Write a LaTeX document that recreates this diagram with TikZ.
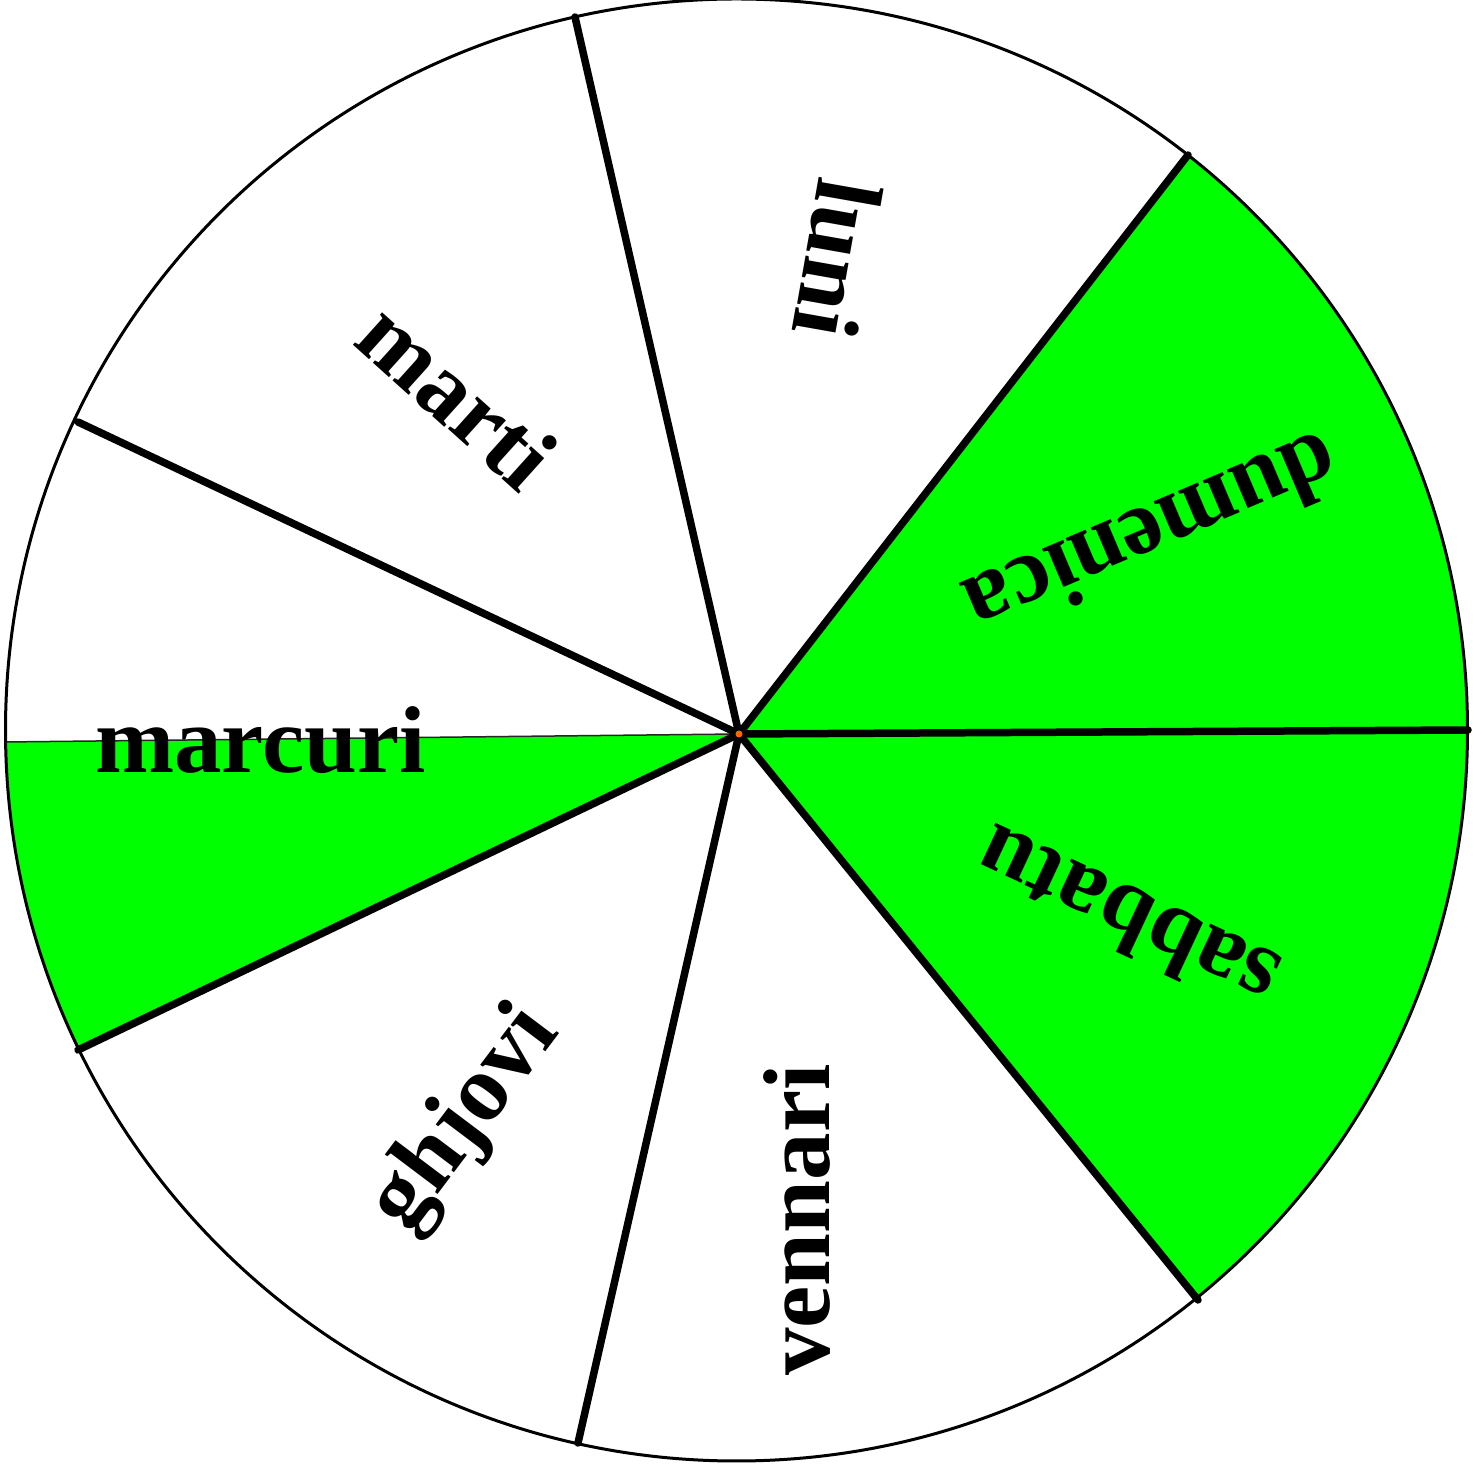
\documentclass[tikz,border=0pt]{standalone}
\usepackage{fontspec}
\setmainfont{Liberation Serif}
\definecolor{wheelgreen}{RGB}{0,255,0}
\definecolor{hubdot}{RGB}{255,102,0}
\tikzset{
  spoke/.style={line width=7.5pt, line cap=round},
  rim/.style={line width=3pt},
  day/.style={font=\fontsize{95}{100}\selectfont\bfseries, inner sep=0pt, text=black}
}
\begin{document}
\begin{tikzpicture}[x=1pt,y=1pt]
\useasboundingbox (0,0) rectangle (1484,1470);
\coordinate (cc) at (736.5,740);
\coordinate (h) at (739,736);
\coordinate (s1) at (575,1453);
\coordinate (s2) at (1188,1315);
\coordinate (s3) at (1468,740);
\coordinate (s4) at (1198,170);
\coordinate (s5) at (578,27);
\coordinate (s6) at (78,420);
\coordinate (s7) at (78,1048);
\coordinate (g0) at (5,728);
\fill[white] (cc) circle[radius=731];
\begin{scope}
  \clip (cc) circle[radius=731];
  \fill[wheelgreen] (h) -- (1278,1431) -- (1490,1431) -- (1490,57) -- (1290,57) -- cycle;
  \fill[wheelgreen] (h) -- (-68,727) -- (-54,357) -- cycle;
  \draw[line width=1.5pt, black!85] (h) -- (g0);
\end{scope}
\foreach \s in {s1,s2,s3,s4,s5,s6,s7} \draw[spoke] (h) -- (\s);
\draw[rim] (cc) circle[radius=731];
\node[day, rotate=-100] (luni) at (838,1211) {luni};
\node[day, rotate=-42] (marti) at (458,1075) {marti};
\node[day, rotate=203] (dumenica) at (1153,933) {dumenica};
\node[day, rotate=155] (sabbatu) at (1126,550) {sabbatu};
\node[day, rotate=90] (vennari) at (797,250) {vennari};
\node[day, rotate=53] (ghjovi) at (466,350) {ghjovi};
\node[day, anchor=base west] (marcuri) at (95,697) {marcuri};
\fill[hubdot] (h) circle[radius=3.5];
\end{tikzpicture}
\end{document}
